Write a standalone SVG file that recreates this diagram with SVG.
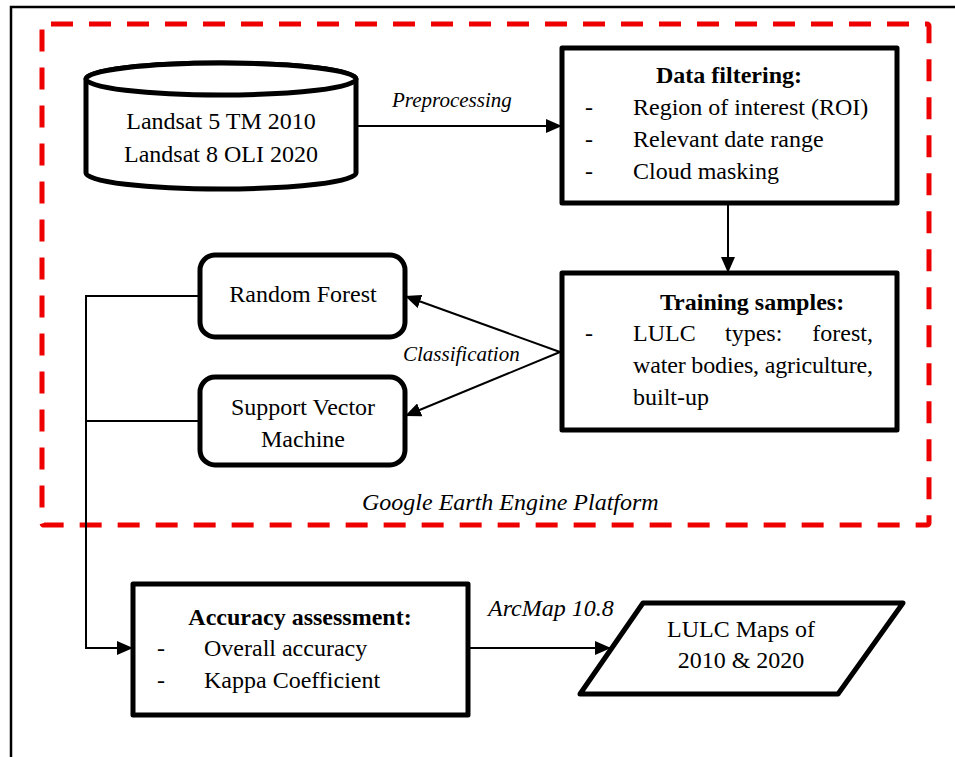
<svg xmlns="http://www.w3.org/2000/svg" width="955" height="757" viewBox="0 0 955 757">
<style>
.t{font-family:"Liberation Serif","Times New Roman",serif;font-size:24px;fill:#000}
.b{font-weight:bold}
.i{font-style:italic;font-size:21px}
.box{fill:#fff;stroke:#000;stroke-width:5;stroke-linejoin:round}
.ln{fill:none;stroke:#000;stroke-width:2}
.c{text-anchor:middle}
</style>
<defs>
<marker id="ah" viewBox="0 0 16 14" refX="16" refY="7" markerWidth="16" markerHeight="14" markerUnits="userSpaceOnUse" orient="auto">
<path d="M0,0 L16,7 L0,14 Z" fill="#000"/>
</marker>
</defs>
<rect width="955" height="757" fill="#fff"/>
<path d="M11,757 V7 H955" fill="none" stroke="#000" stroke-width="2.5"/>
<rect x="42" y="24" width="887" height="501" rx="2" fill="none" stroke="#ee0000" stroke-width="5" stroke-dasharray="22 16" stroke-dashoffset="-7"/>

<g id="connectors">
<path class="ln" d="M356,126 H562" marker-end="url(#ah)"/>
<path class="ln" d="M728,205 V273" marker-end="url(#ah)"/>
<path class="ln" d="M560,352 L405,296" marker-end="url(#ah)"/>
<path class="ln" d="M560,352 L405,416" marker-end="url(#ah)"/>
<path class="ln" d="M200,296 H86 V648 H133" marker-end="url(#ah)"/>
<path class="ln" d="M86,421 H200"/>
<path class="ln" d="M468,648 H611" marker-end="url(#ah)"/>
<text class="t i" x="392" y="107">Preprocessing</text>
<text class="t i" x="403" y="361">Classification</text>
<text class="t i" x="488" y="616" style="font-size:24px">ArcMap 10.8</text>
</g>

<g id="landsat">
<path class="box" d="M86,79 V173 A135,16 0 0 0 356,173 V79 A135,16 0 0 0 86,79 Z"/>
<ellipse cx="221" cy="79" rx="135" ry="16" class="box"/>
<text class="t c" x="221" y="129">Landsat 5 TM 2010</text>
<text class="t c" x="221" y="162">Landsat 8 OLI 2020</text>
</g>

<g id="data-filtering">
<rect class="box" x="562" y="48" width="335" height="155"/>
<text class="t b c" x="729" y="83">Data filtering:</text>
<text class="t" x="585" y="115">-</text><text class="t" x="633" y="115">Region of interest (ROI)</text>
<text class="t" x="585" y="147">-</text><text class="t" x="633" y="147">Relevant date range</text>
<text class="t" x="585" y="179">-</text><text class="t" x="633" y="179">Cloud masking</text>
</g>

<g id="training-samples">
<rect class="box" x="562" y="273" width="335" height="157"/>
<text class="t b c" x="752" y="310">Training samples:</text>
<text class="t" x="585" y="341">-</text>
<text class="t" x="633" y="341">LULC</text>
<text class="t" x="725" y="341">types:</text>
<text class="t" x="873" y="341" text-anchor="end">forest,</text>
<text class="t" x="633" y="373" textLength="240" lengthAdjust="spacing">water bodies, agriculture,</text>
<text class="t" x="633" y="405">built-up</text>
</g>

<g id="random-forest">
<rect class="box" x="200" y="255" width="205" height="82" rx="15"/>
<text class="t c" x="303" y="302">Random Forest</text>
</g>

<g id="svm">
<rect class="box" x="200" y="377" width="205" height="88" rx="15"/>
<text class="t c" x="303" y="415">Support Vector</text>
<text class="t c" x="303" y="447">Machine</text>
</g>

<g id="gee-label">
<text class="t i" x="362" y="510" style="font-size:24px">Google Earth Engine Platform</text>
</g>

<g id="accuracy">
<rect class="box" x="133" y="584" width="335" height="131"/>
<text class="t b c" x="300" y="625">Accuracy assessment:</text>
<text class="t" x="157" y="656">-</text><text class="t" x="204" y="656">Overall accuracy</text>
<text class="t" x="157" y="688">-</text><text class="t" x="204" y="688">Kappa Coefficient</text>
</g>

<g id="lulc-maps">
<polygon class="box" points="643,603 903,603 838,694 580,694"/>
<text class="t c" x="741" y="637">LULC Maps of</text>
<text class="t c" x="741" y="668">2010 &amp; 2020</text>
</g>
</svg>
